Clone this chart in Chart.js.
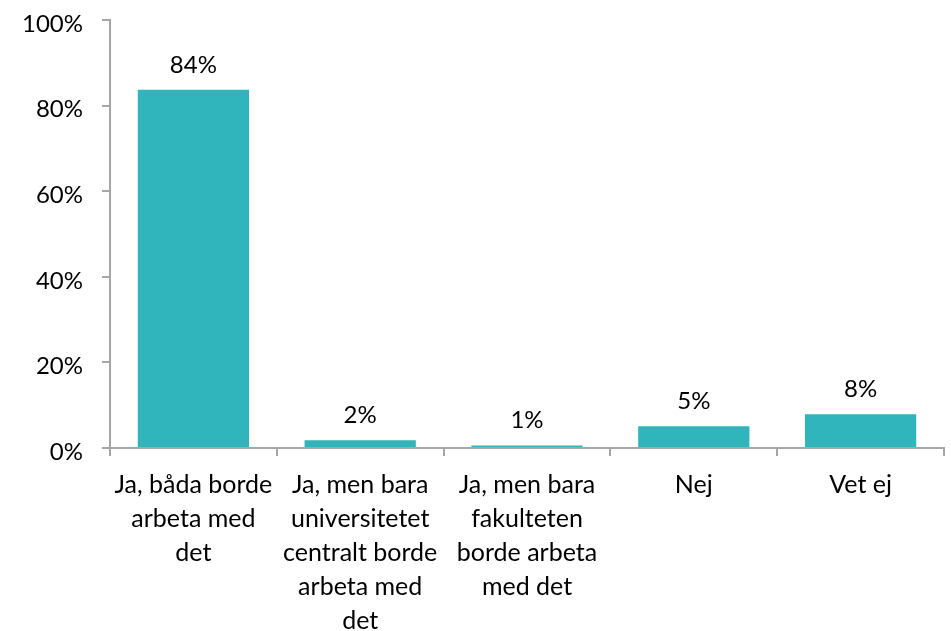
<!DOCTYPE html>
<html>
<head>
<meta charset="utf-8">
<script src="https://cdn.jsdelivr.net/npm/chart.js@4.4.1/dist/chart.umd.min.js"></script>
<style>
  html, body { margin: 0; padding: 0; background: #fff; }
  #wrap { width: 951px; height: 631px; position: relative; }
</style>
</head>
<body>
<div id="wrap"><canvas id="c" width="951" height="631"></canvas></div>
<script>
const categories = [
  ["Ja, båda borde", "arbeta med", "det"],
  ["Ja, men bara", "universitetet", "centralt borde", "arbeta med", "det"],
  ["Ja, men bara", "fakulteten", "borde arbeta", "med det"],
  "Nej",
  "Vet ej"
];
const values = [83.7, 1.8, 0.6, 5.1, 7.9];
const valueLabels = ["84%", "2%", "1%", "5%", "8%"];
const yTicks = [0, 20, 40, 60, 80, 100];

const FONT = "Lato, 'Open Sans', sans-serif";
const AXIS = '#A6A6A6';

const barLabels = {
  id: 'barLabels',
  afterDatasetsDraw(chart) {
    const ctx = chart.ctx;
    const meta = chart.getDatasetMeta(0);
    ctx.save();
    ctx.font = '24px ' + FONT;
    ctx.fillStyle = '#000';
    ctx.textAlign = 'center';
    ctx.textBaseline = 'alphabetic';
    meta.data.forEach((bar, i) => {
      ctx.fillText(valueLabels[i], bar.x, bar.y - 17);
    });
    ctx.restore();
  }
};

new Chart(document.getElementById('c'), {
  type: 'bar',
  data: {
    labels: categories,
    datasets: [{
      data: values,
      backgroundColor: '#31B5BD',
      categoryPercentage: 0.667,
      barPercentage: 1.0
    }]
  },
  options: {
    responsive: false,
    animation: false,
    layout: { padding: { top: 20, right: 7, left: 0, bottom: 0 } },
    plugins: { legend: { display: false }, tooltip: { enabled: false } },
    scales: {
      x: {
        offset: true,
        grid: { display: true, offset: true, drawOnChartArea: false, drawTicks: true, tickLength: 8, color: AXIS, lineWidth: 2 },
        border: { display: true, color: AXIS, width: 2 },
        ticks: {
          color: '#000',
          font: { family: FONT, size: 25, lineHeight: 34 / 25 },
          padding: 12,
          maxRotation: 0,
          autoSkip: false
        },
        afterFit(scale) { scale.height = 183; scale.paddingLeft = 0; scale.paddingRight = 0; }
      },
      y: {
        min: 0, max: 100,
        afterBuildTicks(scale) { scale.ticks = yTicks.map(v => ({ value: v })); },
        grid: { display: true, drawOnChartArea: false, drawTicks: true, tickLength: 8, color: AXIS, lineWidth: 2 },
        border: { display: true, color: AXIS, width: 2 },
        ticks: {
          color: '#000',
          font: { family: FONT, size: 24 },
          padding: 19,
          labelOffset: 4,
          callback: v => v + '%'
        },
        afterFit(scale) { scale.width = 110; scale.paddingTop = 0; scale.paddingBottom = 0; }
      }
    }
  },
  plugins: [barLabels]
});
</script>
</body>
</html>
